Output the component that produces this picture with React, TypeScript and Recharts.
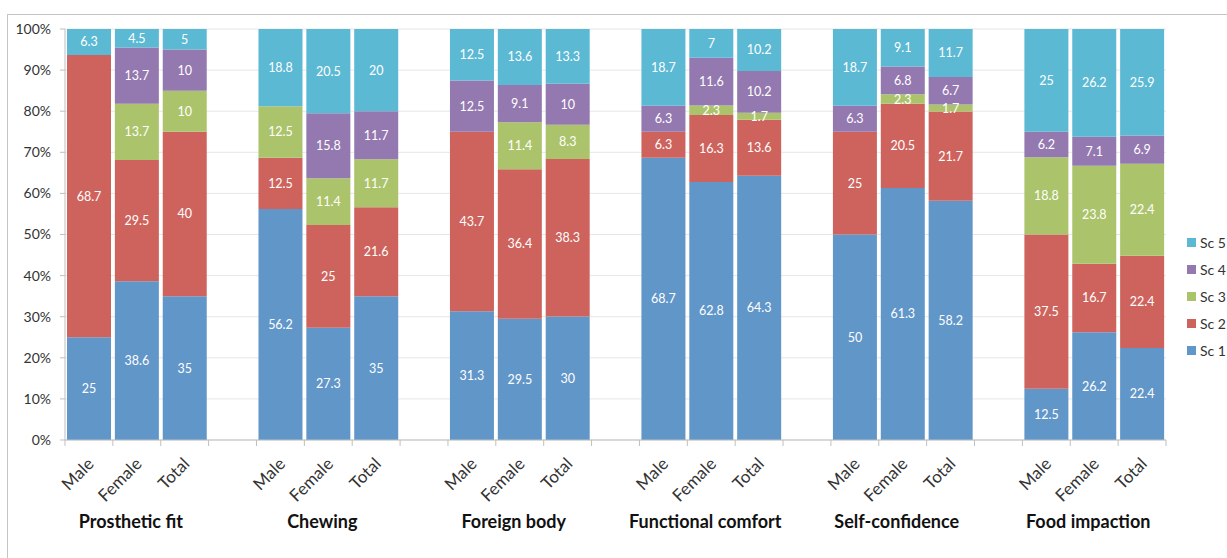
import { Bar, BarChart, CartesianGrid, LabelList, XAxis, YAxis } from 'recharts';

const groups = ['Prosthetic fit', 'Chewing', 'Foreign body', 'Functional comfort', 'Self-confidence', 'Food impaction'];
const sexes = ['Male', 'Female', 'Total'];

// one value per bar: Male, Female, Total for each group in order
const sc1 = [25, 38.6, 35, 56.2, 27.3, 35, 31.3, 29.5, 30, 68.7, 62.8, 64.3, 50, 61.3, 58.2, 12.5, 26.2, 22.4];
const sc2 = [68.7, 29.5, 40, 12.5, 25, 21.6, 43.7, 36.4, 38.3, 6.3, 16.3, 13.6, 25, 20.5, 21.7, 37.5, 16.7, 22.4];
const sc3 = [0, 13.7, 10, 12.5, 11.4, 11.7, 0, 11.4, 8.3, 0, 2.3, 1.7, 0, 2.3, 1.7, 18.8, 23.8, 22.4];
const sc4 = [0, 13.7, 10, 0, 15.8, 11.7, 12.5, 9.1, 10, 6.3, 11.6, 10.2, 6.3, 6.8, 6.7, 6.2, 7.1, 6.9];
const sc5 = [6.3, 4.5, 5, 18.8, 20.5, 20, 12.5, 13.6, 13.3, 18.7, 7, 10.2, 18.7, 9.1, 11.7, 25, 26.2, 25.9];

const series = [
  { key: 'sc1', name: 'Sc 1', color: '#6196c9', values: sc1 },
  { key: 'sc2', name: 'Sc 2', color: '#ce635d', values: sc2 },
  { key: 'sc3', name: 'Sc 3', color: '#abc46b', values: sc3 },
  { key: 'sc4', name: 'Sc 4', color: '#9478b0', values: sc4 },
  { key: 'sc5', name: 'Sc 5', color: '#5bb9d3', values: sc5 },
];

const yTicks = [0, 0.1, 0.2, 0.3, 0.4, 0.5, 0.6, 0.7, 0.8, 0.9, 1];

type Row = { id: string; label: string; group: string; [k: string]: string | number | undefined };

const rows: Row[] = [];
groups.forEach((g, gi) => {
  sexes.forEach((s, si) => {
    const row: Row = { id: `${gi}-${si}`, label: s, group: si === 1 ? g : '' };
    series.forEach((sr) => {
      row[sr.key] = sr.values[gi * 3 + si];
    });
    rows.push(row);
  });
  if (gi < groups.length - 1) rows.push({ id: `gap-${gi}`, label: '', group: '' });
});

const W = 1227;
const H = 558;
const PLOT_LEFT = 65;
const PLOT_RIGHT = 1166;
const PLOT_TOP = 29;
const PLOT_BOTTOM = 440;
const Y_AXIS_W = 55;
const X_AXIS_H = 100;
const HALF = (PLOT_RIGHT - PLOT_LEFT) / rows.length / 2;
const FONT = 'Lato, "Open Sans", sans-serif';

function CategoryTick(props: any) {
  const { x, payload } = props;
  const idx = rows.findIndex((r) => r.id === payload.value);
  const row = rows[idx];
  const last = idx === rows.length - 1;
  return (
    <g>
      <line x1={x - HALF} x2={x - HALF} y1={PLOT_BOTTOM} y2={PLOT_BOTTOM + 6} stroke="#bfbfbf" />
      {last && <line x1={x + HALF} x2={x + HALF} y1={PLOT_BOTTOM} y2={PLOT_BOTTOM + 6} stroke="#bfbfbf" />}
      {row && row.label && (
        <text
          transform={`translate(${x + 6},${PLOT_BOTTOM + 25}) rotate(-45)`}
          textAnchor="end"
          fontSize={17}
          fill="#333"
          fontFamily={FONT}
        >
          {row.label}
        </text>
      )}
      {row && row.group && (
        <text x={x - 6} y={PLOT_BOTTOM + 88} textAnchor="middle" fontSize={18} fontWeight="bold" fill="#111" fontFamily={FONT}>
          {row.group}
        </text>
      )}
    </g>
  );
}

const showValue = (v: any) => (v ? String(v) : '');

export default function App() {
  return (
    <div style={{ position: 'absolute', left: 0, top: 0, width: W, height: H, background: '#fff', overflow: 'hidden' }}>
      <div
        style={{
          position: 'absolute',
          left: 7,
          top: 14,
          width: W + 20,
          height: H + 20,
          border: '1.5px solid #c4c4c4',
        }}
      />
      <BarChart
        width={W}
        height={H}
        data={rows}
        stackOffset="expand"
        barCategoryGap={2}
        margin={{ top: PLOT_TOP, right: W - PLOT_RIGHT, bottom: H - PLOT_BOTTOM - X_AXIS_H, left: PLOT_LEFT - Y_AXIS_W }}
        style={{ position: 'absolute', left: 0, top: 0 }}
      >
        <CartesianGrid vertical={false} stroke="#e6e6e6" />
        <XAxis
          dataKey="id"
          interval={0}
          height={X_AXIS_H}
          tickLine={false}
          axisLine={{ stroke: '#bfbfbf' }}
          tick={<CategoryTick />}
        />
        <YAxis
          width={Y_AXIS_W}
          domain={[0, 1]}
          ticks={yTicks}
          tickFormatter={(v: number) => `${Math.round(v * 100)}%`}
          axisLine={{ stroke: '#bfbfbf' }}
          tickLine={{ stroke: '#bfbfbf' }}
          tickSize={5}
          tickMargin={9}
          tick={{ fontSize: 14, fill: '#333', fontFamily: FONT }}
        />
        {series.map((s) => (
          <Bar key={s.key} dataKey={s.key} name={s.name} stackId="a" fill={s.color} isAnimationActive={false}>
            <LabelList
              dataKey={s.key}
              position="center"
              formatter={showValue}
              fill="#fff"
              fontSize={12.5}
              fontFamily={FONT}
            />
          </Bar>
        ))}
      </BarChart>
      <div style={{ position: 'absolute', left: 1187, top: 229, fontFamily: FONT, fontSize: 14, color: '#333' }}>
        {[...series].reverse().map((s) => (
          <div key={s.key} style={{ display: 'flex', alignItems: 'center', height: 27 }}>
            <span style={{ width: 9, height: 9, background: s.color, marginRight: 4, display: 'inline-block' }} />
            {s.name}
          </div>
        ))}
      </div>
    </div>
  );
}
